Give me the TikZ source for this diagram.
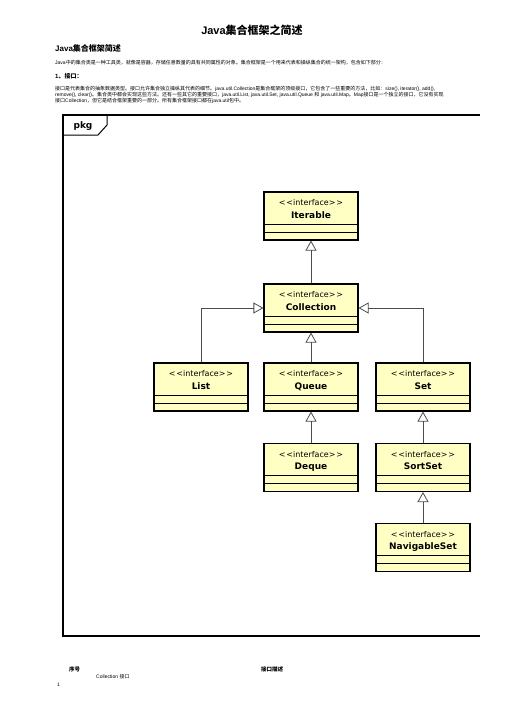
\documentclass[tikz,border=0pt]{standalone}
\usepackage{fontspec}
\setmainfont{Liberation Sans}
\newfontfamily\cjk{Noto Sans CJK SC}
\newfontfamily\umlfont{DejaVu Sans}
\usetikzlibrary{arrows.meta}
\definecolor{ifacefill}{RGB}{255,255,196}
\def\zh#1{{\cjk #1}}
\def\iface#1{\parbox[c][48pt][t]{94pt}{\centering\vspace*{7.5pt}\fontsize{8}{12.5}\selectfont<\kern0.8pt<interface>\kern0.8pt>\\\fontsize{9}{12.5}\selectfont\bfseries #1}}
\tikzset{
	iface/.style={draw=black, line width=1.1pt, fill=ifacefill, inner sep=0pt, font=\umlfont},
	gen/.style={draw=black!70, line width=0.8pt, -{Triangle[open, length=10pt, width=11pt]}},
	txt/.style={inner sep=0pt, anchor=west}
}

\begin{document}
\begin{tikzpicture}[x=1pt, y=-1pt]
			%%%%% START %%%%%
			\useasboundingbox (0,0) rectangle (504,713);
			
			\node[inner sep=0pt, font=\fontsize{11}{13}\selectfont\bfseries] (title) at (252,30) {Java\zh{集合框架之简述}};
			\node[txt, font=\fontsize{8}{10}\selectfont\bfseries] (head) at (55,48) {Java\zh{集合框架简述}};
			\node[txt, font=\fontsize{5}{6}\selectfont] (intro) at (55,63) {Java\zh{中的集合类是一种工具类，就像是容器，存储任意数量的具有共同属性的对象。集合框架是一个用来代表和操纵集合的统一架构，包含如下部分：}};
			\node[txt, font=\fontsize{6}{7}\selectfont\bfseries] (sec) at (55,76) {1\zh{、接口：}};
			\node[txt, anchor=north west, align=left, font=\fontsize{5}{6}\selectfont] (para) at (55,86) {\zh{接口是代表集合的抽象数据类型。接口允许集合独立操纵其代表的细节。}java.util.Collection\zh{是集合框架的顶级接口，它包含了一些重要的方法，比如：}size(), iterator(), add(),\\
				remove(), clear()\zh{。集合类中都会实现这些方法。还有一些其它的重要接口，}java.util.List, java.util.Set, java.util.Queue \zh{和} java.util.Map\zh{。}Map\zh{接口是一个独立的接口，它没有实现}\\
				\zh{接口}Collection\zh{，但它是结合框架重要的一部分。所有集合框架接口都在}java.util\zh{包中。}};
			
			% package frame
			\draw[line width=1.2pt] (480,115) -- (63,115) -- (63,636) -- (480,636);
			\draw[line width=1pt] (63,135) -- (98,135) -- (107,125) -- (107,115);
			\node[inner sep=0pt, font=\umlfont\fontsize{9}{10}\selectfont\bfseries] (pkg) at (83,126) {pkg};
			
			% interfaces
			\node[iface] (iter) at (311,216) {\iface{Iterable}};
			\node[iface] (coll) at (311,308) {\iface{Collection}};
			\node[iface] (list) at (201,387) {\iface{List}};
			\node[iface] (queue) at (311,387) {\iface{Queue}};
			\node[iface] (set) at (423,387) {\iface{Set}};
			\node[iface] (deque) at (311,467.5) {\iface{Deque}};
			\node[iface] (sortset) at (423,467.5) {\iface{SortSet}};
			\node[iface] (navset) at (423,547.5) {\iface{NavigableSet}};
			
			\foreach \n in {iter,coll,list,queue,set,deque,sortset,navset}{
				\draw[line width=0.9pt] ([yshift=16.5pt]\n.south west) -- ([yshift=16.5pt]\n.south east);
				\draw[line width=0.9pt] ([yshift=8.5pt]\n.south west) -- ([yshift=8.5pt]\n.south east);
			}
			
			\draw[gen] (coll) -- (iter);
			\draw[gen] (list.north) |- (coll.west);
			\draw[gen] (queue) -- (coll);
			\draw[gen] (set.north) |- (coll.east);
			\draw[gen] (deque) -- (queue);
			\draw[gen] (sortset) -- (set);
			\draw[gen] (navset) -- (sortset);
			
			% table under the picture
			\node[txt, font=\fontsize{5.5}{6}\selectfont\bfseries] (colno) at (69,669) {\zh{序号}};
			\node[txt, font=\fontsize{5.5}{6}\selectfont\bfseries] (coldesc) at (261,669) {\zh{接口描述}};
			\node[txt, font=\fontsize{5}{6}\selectfont] (rowname) at (96,677) {Collection \zh{接口}};
			\node[txt, font=\fontsize{5}{6}\selectfont] (rowno) at (57,685) {1};
			
			%%%%% END %%%%%
\end{tikzpicture}
\end{document}
